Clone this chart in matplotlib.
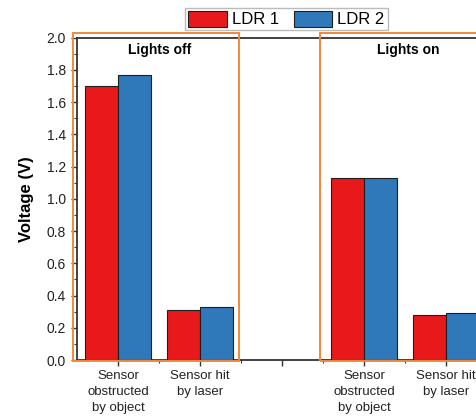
import matplotlib
matplotlib.use("Agg")
import matplotlib.pyplot as plt
from matplotlib.patches import Rectangle, Patch
from matplotlib.ticker import MultipleLocator, FixedLocator

plt.rcParams['font.family'] = ['Liberation Sans', 'DejaVu Sans']

# Data
categories = ['Sensor\nobstructed\nby object', 'Sensor hit\nby laser', '',
              'Sensor\nobstructed\nby object', 'Sensor hit\nby laser']
positions = [1, 2, 3, 4, 5]
bar_positions = [1, 2, 4, 5]
ldr1 = [1.70, 0.31, 1.13, 0.28]
ldr2 = [1.77, 0.33, 1.13, 0.29]
series_names = ['LDR 1', 'LDR 2']
group_titles = ['Lights off', 'Lights on']
y_ticks = [0.0, 0.2, 0.4, 0.6, 0.8, 1.0, 1.2, 1.4, 1.6, 1.8, 2.0]

red = '#E8191B'
blue = '#2F78BA'
orange = '#F2893D'
edge = '#1E1E1E'

fig = plt.figure(figsize=(4.77, 4.17), dpi=100)
ax = fig.add_axes([77 / 477, 57 / 417, 410 / 477, 322.3 / 417])

w = 0.4
ax.bar([p - w / 2 for p in bar_positions], ldr1, width=w, color=red,
       edgecolor=edge, linewidth=0.8, zorder=3)
ax.bar([p + w / 2 for p in bar_positions], ldr2, width=w, color=blue,
       edgecolor=edge, linewidth=0.8, zorder=3)

ax.set_xlim(0.5, 5.5)
ax.set_ylim(0, 2.0)

ax.set_xticks(positions)
ax.set_xticklabels(categories, fontsize=9.5, linespacing=1.45)
ax.xaxis.set_minor_locator(FixedLocator([1.5, 2.5, 3.5, 4.5]))
ax.set_yticks(y_ticks)
ax.set_yticklabels([f'{v:.1f}' for v in y_ticks], fontsize=10)
ax.yaxis.set_minor_locator(MultipleLocator(0.1))

ax.tick_params(axis='both', which='major', direction='out', length=4.5,
               width=1.0, color='#333333', labelcolor='#222222')
ax.tick_params(axis='both', which='minor', direction='out', length=2.5,
               width=0.8, color='#333333')
ax.tick_params(axis='x', which='major', pad=2.5)

for side in ['left', 'bottom', 'top']:
    ax.spines[side].set_color('#333333')
    ax.spines[side].set_linewidth(1.3)
ax.spines['right'].set_visible(False)

ax.set_ylabel('Voltage (V)', fontsize=12, fontweight='bold')
ax.yaxis.set_label_coords(-0.105, 0.5)

# Frames around the two lighting conditions
ax.add_patch(Rectangle((0.451, -0.006), 2.476 - 0.451, 2.029 + 0.006,
                       fill=False, edgecolor=orange, linewidth=1.4,
                       clip_on=False, zorder=5))
ax.add_patch(Rectangle((3.463, -0.006), 6.0 - 3.463, 2.029 + 0.006,
                       fill=False, edgecolor=orange, linewidth=1.4,
                       clip_on=False, zorder=5))

ax.text(1.512, 1.922, group_titles[0], ha='center', va='center',
        fontsize=10, fontweight='bold')
ax.text(4.537, 1.922, group_titles[1], ha='center', va='center',
        fontsize=10, fontweight='bold')

handles = [Patch(facecolor=red, edgecolor=edge, linewidth=0.8, label=series_names[0]),
           Patch(facecolor=blue, edgecolor=edge, linewidth=0.8, label=series_names[1])]
leg = fig.legend(handles=handles, loc='center', bbox_to_anchor=(286.5 / 477, 1 - 19 / 417),
                 ncol=2, fontsize=12, frameon=True, fancybox=False,
                 handlelength=2.3, handleheight=1.15, handletextpad=0.3,
                 columnspacing=0.9, borderpad=0.18, borderaxespad=0)
leg.get_frame().set_edgecolor('#AAAAAA')
leg.get_frame().set_linewidth(1.0)

fig.savefig('out.png', dpi=100)
